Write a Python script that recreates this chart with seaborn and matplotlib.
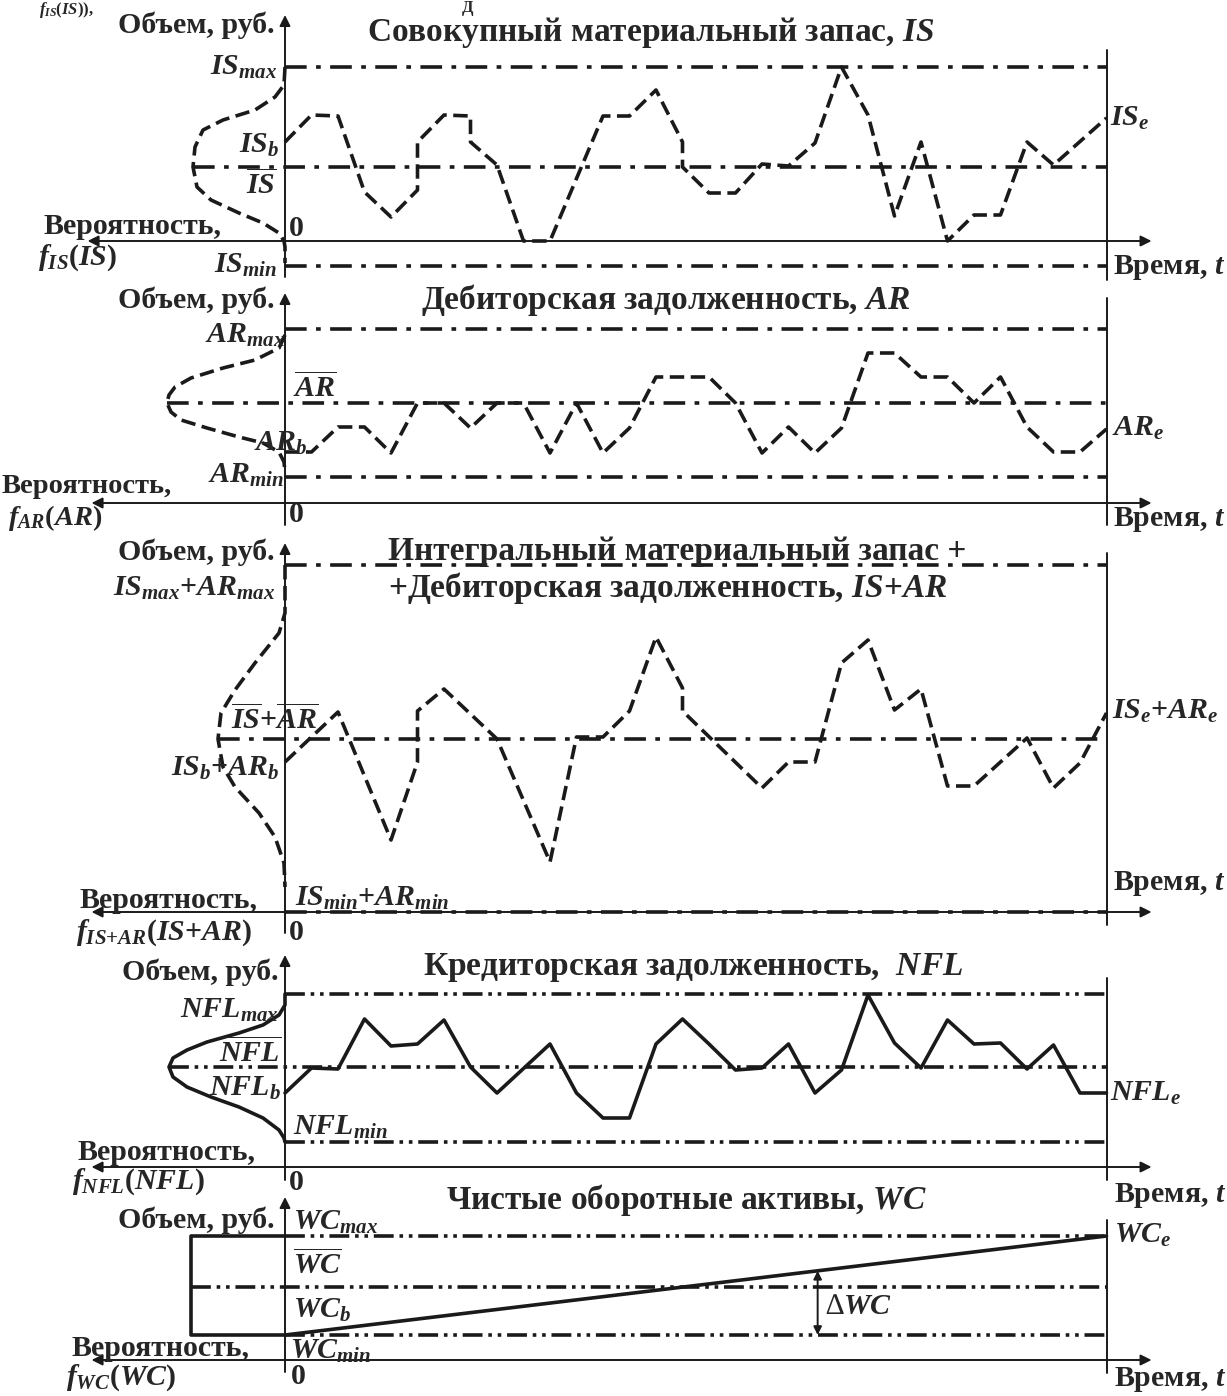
import numpy as np
import matplotlib
matplotlib.use("Agg")
import matplotlib.pyplot as plt
import seaborn as sns

# ---------------- data ----------------
# time in periods (0 .. 31), volumes in conventional units
is_t = [0, 1, 2, 3, 4, 5, 5, 6, 7, 7, 8, 9, 10, 12, 13, 14, 15, 15, 16, 17, 18, 19, 20,
        21, 22, 23, 24, 25, 26, 27, 28, 29, 31]
is_vol = [99, 126, 125, 49, 24, 51, 99, 126, 125, 99, 76, 0, 0, 125, 125, 151, 99, 74, 48, 48,
          77, 75, 98, 174, 126, 25, 99, 0, 26, 26, 99, 76, 123]
is_lim = {"max": 174, "mean": 74, "min": -25}
is_pdf_v = [174, 156, 144, 131, 121, 111, 94, 74, 54, 41, 28, 18, 8, 0, -6, -22]
is_pdf = [0, 0.01, 0.10, 0.30, 0.62, 0.82, 0.90, 0.92, 0.88, 0.74, 0.46, 0.22, 0.06, 0.01, 0, 0]

ar_t = [0, 1, 2, 3, 4, 5, 6, 7, 8, 9, 10, 11, 12, 13, 14, 16, 17, 18, 19, 20, 21, 22, 23,
        24, 25, 26, 27, 28, 29, 30, 31]
ar_vol = [51, 51, 76, 76, 50, 100, 100, 75, 100, 100, 50, 100, 50, 75, 126, 126, 100, 50, 76,
          50, 75, 150, 150, 126, 126, 100, 126, 76, 51, 51, 74]
ar_lim = {"max": 174, "mean": 100, "min": 26}
ar_pdf_v = [168, 155, 143, 135, 125, 116, 108, 100, 91, 83, 75, 66, 60, 51, 41, 31]
ar_pdf = [0, 0.06, 0.30, 0.62, 0.94, 1.10, 1.16, 1.18, 1.14, 1.04, 0.78, 0.46, 0.22, 0.06, 0.01, 0]

isar_t = [0, 2, 4, 5, 5, 6, 8, 10, 11, 12, 13, 14, 15, 15, 18, 19, 20, 21, 22, 23, 24, 25, 26,
          28, 29, 30, 31]
isar_vol = [150, 200, 72, 150, 201, 223, 173, 50, 175, 175, 201, 275, 224, 201, 124, 150, 150,
            249, 272, 202, 223, 126, 126, 174, 124, 149, 199]
isar_lim = {"max": 347, "mean": 173, "min": 0}
isar_pdf_v = [347, 299, 279, 249, 222, 199, 173, 145, 125, 99, 75, 49, 25]
isar_pdf = [0, 0, 0.06, 0.30, 0.50, 0.64, 0.67, 0.62, 0.50, 0.26, 0.10, 0.01, 0]

nfl_t = [0, 1, 2, 3, 4, 5, 6, 7, 8, 10, 11, 12, 13, 14, 15, 16, 17, 18, 19, 20, 21, 22, 23,
         24, 25, 26, 27, 28, 29, 30, 31]
nfl_vol = [74, 99, 98, 148, 121, 123, 147, 100, 74, 123, 74, 49, 49, 123, 148, 123, 97, 99, 123,
           74, 97, 172, 124, 99, 147, 123, 124, 98, 122, 74, 74]
nfl_lim = {"max": 173, "mean": 100, "min": 25}
nfl_pdf_v = [173, 162, 152, 142, 134, 125, 117, 109, 100, 90, 80, 70, 60, 49, 37, 29, 25]
nfl_pdf = [0, 0, 0.06, 0.22, 0.46, 0.78, 0.98, 1.12, 1.16, 1.12, 0.98, 0.74, 0.46, 0.22, 0.06,
           0.01, 0]

wc_t = [0, 31]
wc_vol = [25, 124]
wc_lim = {"max": 124, "mean": 73, "min": 25}
wc_pdf_v = [25, 25, 124, 124]
wc_pdf = [0, 0.94, 0.94, 0]
dwc_t = 20.1

# ---------------- style / layout ----------------
sns.set_theme(style="white")
plt.rcParams["font.family"] = ["Liberation Serif", "DejaVu Sans"]
plt.rcParams["font.weight"] = "bold"
plt.rcParams["mathtext.fontset"] = "custom"
plt.rcParams["mathtext.rm"] = "Liberation Serif:bold"
plt.rcParams["mathtext.it"] = "Liberation Serif:italic:bold"
plt.rcParams["mathtext.bf"] = "Liberation Serif:bold"
plt.rcParams["mathtext.default"] = "it"

W, H = 1227, 1396
STEP = 26.5    # px per period
X0 = 285       # px position of the value axis
PDF_PX = 100   # px per density unit

DASH = (0, (4, 1.8))
DASHDOT = (0, (6, 2.6, 1.3, 2.6))
DASHDOTDOT = (0, (5.5, 1.6, 1.0, 1.6, 1.0, 1.6))

fig = plt.figure(figsize=(W / 100, H / 100), dpi=100)


def txt(x, y, s, size=18, ha="left", va="center", **kw):
    fig.text(x / W, 1 - y / H, s, fontsize=size, ha=ha, va=va, fontweight="bold", **kw)


def arrow(ax, start, tip):
    ax.annotate("", xy=tip, xytext=start,
                arrowprops=dict(arrowstyle="-|>", color="k", lw=1.4,
                                mutation_scale=16, shrinkA=0, shrinkB=0))


def panel(base, t, vol, lim, pdf_v, pdf, series_ls, ref_ls, yaxis, rline, left_tip=-7.3):
    ax = fig.add_axes([0, 0, 1, 1])
    ax.set_xlim(-X0 / STEP, (W - X0) / STEP)
    ax.set_ylim(base - H, base)
    ax.axis("off")
    ax.patch.set_alpha(0)

    t_end = t[-1]
    # axes
    arrow(ax, (0, 0), (left_tip, 0))
    arrow(ax, (0, 0), (t_end + 1.7, 0))
    ax.plot([0, 0], [yaxis[0], 0], color="k", lw=1.4)
    arrow(ax, (0, 0), (0, yaxis[1]))
    ax.plot([t_end, t_end], rline, color="k", lw=1.4)

    # reference levels
    pdf_x = -np.asarray(pdf) * PDF_PX / STEP
    ax.plot([0, t_end], [lim["max"]] * 2, color="k", lw=2.6, ls=ref_ls)
    ax.plot([0, t_end], [lim["min"]] * 2, color="k", lw=2.6, ls=ref_ls)
    ax.plot([pdf_x.min(), t_end], [lim["mean"]] * 2, color="k", lw=2.6, ls=ref_ls)

    # density and series
    ax.plot(pdf_x, pdf_v, color="k", lw=2.6, ls=series_ls)
    sns.lineplot(x=t, y=vol, ax=ax, sort=False, estimator=None, color="k",
                 lw=2.6, linestyle=series_ls)
    return ax


# ---------------- panels ----------------
panel(241, is_t, is_vol, is_lim, is_pdf_v, is_pdf, DASH, DASHDOT,
      yaxis=(-36, 226), rline=(191, -39), left_tip=-7.45)
panel(503, ar_t, ar_vol, ar_lim, ar_pdf_v, ar_pdf, DASH, DASHDOT,
      yaxis=(-22, 210), rline=(205, -22))
panel(912, isar_t, isar_vol, isar_lim, isar_pdf_v, isar_pdf, DASH, DASHDOT,
      yaxis=(-21, 369), rline=(359, -13))
panel(1167, nfl_t, nfl_vol, nfl_lim, nfl_pdf_v, nfl_pdf, "-", DASHDOTDOT,
      yaxis=(-13, 212), rline=(189, -13))
ax5 = panel(1360, wc_t, wc_vol, wc_lim, wc_pdf_v, wc_pdf, "-", DASHDOTDOT,
            yaxis=(-12, 163), rline=(140, -13))
ax5.annotate("", xy=(dwc_t, np.interp(dwc_t, wc_t, wc_vol)), xytext=(dwc_t, wc_lim["min"]),
             arrowprops=dict(arrowstyle="<|-|>", color="k", lw=1.4, mutation_scale=12,
                             shrinkA=0, shrinkB=0))

# ---------------- texts ----------------
TS = 24     # titles
LS = 21.5   # axis words
MS = 21.5   # symbols

txt(39, 0.5, "$f_{IS}(IS)$),", size=12, va="top")
txt(462, 0.5, "Д", size=12, va="top")

# panel 1
txt(275, 25, "Объем, руб.", LS, ha="right")
txt(651, 33, "Совокупный материальный запас, $IS$", TS, ha="center")
txt(277, 67, "$IS_{max}$", MS, ha="right")
txt(279, 145, "$IS_{b}$", MS, ha="right")
txt(277, 185, r"$\overline{IS}$", MS, ha="right")
txt(288, 228, r"$\mathit{0}$", MS)
txt(44, 226, "Вероятность,", LS)
txt(38, 258, "$f_{IS}(IS)$", MS)
txt(277, 265, "$IS_{min}$", MS, ha="right")
txt(1110, 118, "$IS_{e}$", MS)
txt(1113, 267, "Время, $t$", LS)

# panel 2
txt(275, 300, "Объем, руб.", LS, ha="right")
txt(666, 300, "Дебиторская задолженность, $AR$", TS, ha="center")
txt(285, 335, "$AR_{max}$", MS, ha="right")
txt(293, 388, r"$\overline{AR}$", MS)
txt(307, 443, "$AR_{b}$", MS, ha="right")
txt(284, 475, "$AR_{min}$", MS, ha="right")
txt(2, 486, "Вероятность,", 20.5)
txt(8, 518, "$f_{AR}(AR)$", 20.5)
txt(288, 515, r"$\mathit{0}$", MS)
txt(1112, 428, "$AR_{e}$", MS)
txt(1113, 520, "Время, $t$", LS)

# panel 3
txt(275, 552, "Объем, руб.", LS, ha="right")
txt(677, 551, "Интегральный материальный запас +", TS, ha="center")
txt(668, 588, "+Дебиторская задолженность, $IS{+}AR$", TS, ha="center")
txt(275, 588, "$IS_{max}{+}AR_{max}$", MS, ha="right")
txt(231, 720, r"$\overline{IS}{+}\overline{AR}$", MS)
txt(279, 768, "$IS_{b}{+}AR_{b}$", MS, ha="right")
txt(295, 898, "$IS_{min}{+}AR_{min}$", MS)
txt(80, 900, "Вероятность,", LS)
txt(76, 933, "$f_{IS{+}AR}(IS{+}AR)$", MS)
txt(288, 932, r"$\mathit{0}$", MS)
txt(1112, 711, "$IS_{e}{+}AR_{e}$", MS)
txt(1113, 883, "Время, $t$", LS)

# panel 4
txt(279, 972, "Объем, руб.", LS, ha="right")
txt(693, 967, "Кредиторская задолженность,  $NFL$", TS, ha="center")
txt(279, 1010, "$NFL_{max}$", MS, ha="right")
txt(281, 1053, r"$\overline{NFL}$", MS, ha="right")
txt(281, 1088, "$NFL_{b}$", MS, ha="right")
txt(293, 1127, "$NFL_{min}$", MS)
txt(78, 1152, "Вероятность,", LS)
txt(72, 1182, "$f_{NFL}(NFL)$", MS)
txt(288, 1182, r"$\mathit{0}$", MS)
txt(1110, 1093, "$NFL_{e}$", MS)
txt(1114, 1195, "Время, $t$", LS)

# panel 5
txt(275, 1220, "Объем, руб.", LS, ha="right")
txt(686, 1200, "Чистые оборотные активы, $WC$", TS, ha="center")
txt(293, 1222, "$WC_{max}$", MS)
txt(293, 1265, r"$\overline{WC}$", MS)
txt(293, 1310, "$WC_{b}$", MS)
txt(290, 1351, "$WC_{min}$", MS)
txt(72, 1348, "Вероятность,", LS)
txt(66, 1378, "$f_{WC}(WC)$", MS)
txt(290, 1377, r"$\mathit{0}$", MS)
txt(1114, 1235, "$WC_{e}$", MS)
fig.text(825 / W, 1 - 1307 / H, "∆$WC$", fontsize=MS, ha="left", va="center",
         fontweight="normal")
txt(1114, 1380, "Время, $t$", LS)

fig.savefig("out.png", dpi=100, facecolor="white")
